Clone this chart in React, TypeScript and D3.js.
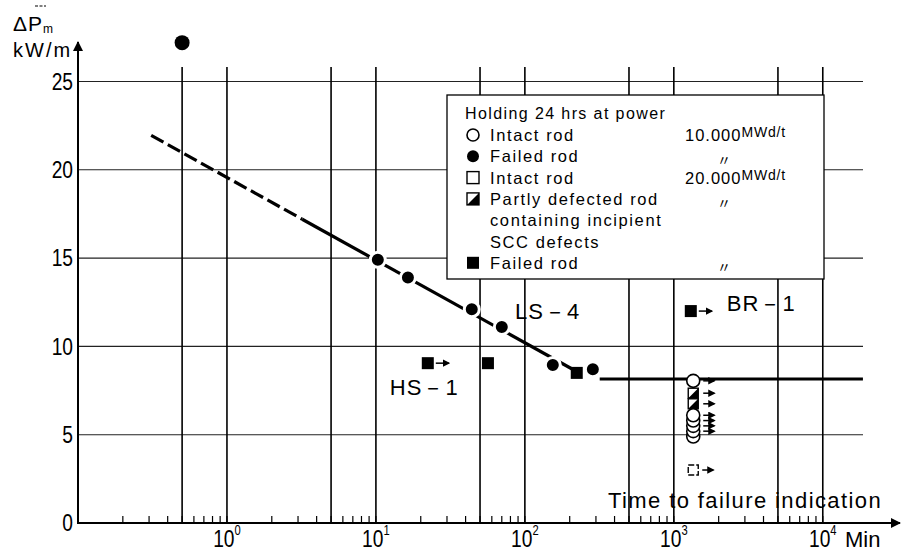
import React from "react";
import * as d3 from "d3";

// axis values
const decadeExponents = [0, 1, 2, 3, 4];
const xGridValues = [0.5, 1, 5, 10, 50, 100, 500, 1000, 5000, 10000];
const yTickValues = [0, 5, 10, 15, 20, 25];
const yGridValues = [5, 10, 15, 20, 25];

// 10.000 MWd/t - failed rods (filled circles)
const failed10k = [
  { t: 0.5, p: 27.2 },
  { t: 10.3, p: 14.9 },
  { t: 16.4, p: 13.9 },
  { t: 44, p: 12.1 },
  { t: 70, p: 11.1 },
  { t: 154, p: 8.95 },
  { t: 286, p: 8.7 },
];
// 20.000 MWd/t - failed rods (filled squares)
const failed20k = [
  { t: 22.3, p: 9.05, arrow: true },
  { t: 56.5, p: 9.05, arrow: false },
  { t: 223, p: 8.5, arrow: false },
  { t: 1300, p: 12.0, arrow: true },
];
// 10.000 MWd/t - intact rods (open circles)
const intact10k = [
  { t: 1350, p: 8.05, arrow: true },
  { t: 1350, p: 6.1, arrow: true },
  { t: 1350, p: 5.8, arrow: true },
  { t: 1350, p: 5.5, arrow: true },
  { t: 1350, p: 5.2, arrow: true },
  { t: 1350, p: 4.9, arrow: false },
];
// 20.000 MWd/t - partly defected rods
const partly20k = [
  { t: 1350, p: 7.35, arrow: true },
  { t: 1350, p: 6.75, arrow: true },
];
// 20.000 MWd/t - intact rods (open squares)
const intact20k = [{ t: 1350, p: 3.0, arrow: true }];

// fitted threshold lines
const trendDashed = [
  { t: 0.31, p: 21.95 },
  { t: 3.2, p: 17.2 },
];
const trendSolid = [
  { t: 3.2, p: 17.2 },
  { t: 215, p: 8.65 },
];
const plateau = [
  { t: 318, p: 8.15 },
  { t: 18600, p: 8.15 },
];

const curveLabels = [
  { text: "LS－4", t: 86, p: 11.95 },
  { text: "HS－1", t: 12.4, p: 7.7 },
  { text: "BR－1", t: 2270, p: 12.45 },
];

const legendRows = [
  { marker: "openCircle", label: "Intact rod", burnup: "10.000" },
  { marker: "filledCircle", label: "Failed rod", burnup: "〃" },
  { marker: "openSquare", label: "Intact rod", burnup: "20.000" },
  { marker: "halfSquare", label: "Partly defected rod", burnup: "〃" },
  { marker: "none", label: "containing incipient", burnup: "" },
  { marker: "none", label: "SCC defects", burnup: "" },
  { marker: "filledSquare", label: "Failed rod", burnup: "〃" },
];

const FONT = "'Liberation Sans', Arial, sans-serif";

function Marker({ kind, cx, cy, size }: { kind: string; cx: number; cy: number; size: number }) {
  const h = size / 2;
  if (kind === "openCircle")
    return <circle cx={cx} cy={cy} r={h} fill="white" stroke="black" strokeWidth={1.6} />;
  if (kind === "filledCircle") return <circle cx={cx} cy={cy} r={h} fill="black" />;
  if (kind === "openSquare")
    return <rect x={cx - h} y={cy - h} width={size} height={size} fill="white" stroke="black" strokeWidth={1.4} />;
  if (kind === "filledSquare") return <rect x={cx - h} y={cy - h} width={size} height={size} fill="black" />;
  if (kind === "halfSquare")
    return (
      <g>
        <rect x={cx - h} y={cy - h} width={size} height={size} fill="white" stroke="black" strokeWidth={1.4} />
        <path d={`M${cx + h},${cy - h}L${cx + h},${cy + h}L${cx - h},${cy + h}Z`} fill="black" />
      </g>
    );
  return null;
}

export default function App() {
  const width = 905;
  const height = 555;

  const x = d3.scaleLog().domain([0.1, Math.pow(10, 4.27)]).range([78, 863]);
  const y = d3.scaleLinear().domain([0, 25]).range([523, 81.5]);

  const line = d3
    .line<{ t: number; p: number }>()
    .x((d) => x(d.t))
    .y((d) => y(d.p));

  const minorTicks = x.ticks().filter((t) => t <= 10000);
  const gridTop = 67;
  const x0 = x.range()[0];
  const xEnd = x.range()[1];

  const arrow = (px: number, py: number, off: number, len: number, key: string) => (
    <line
      key={key}
      x1={px + off}
      y1={py}
      x2={px + off + len}
      y2={py}
      stroke="black"
      strokeWidth={1.5}
      markerEnd="url(#head)"
    />
  );

  // legend layout
  const lg = { x: 447, y: 95, w: 377, h: 184 };
  const rowY = (i: number) => 135 + i * 21.3;

  return (
    <svg
      width={width}
      height={height}
      style={{ position: "absolute", left: 0, top: 0, background: "white" }}
      fontFamily={FONT}
    >
      <defs>
        <marker id="head" viewBox="0 0 10 10" refX="8" refY="5" markerWidth="5" markerHeight="5" orient="auto">
          <path d="M0,0L10,5L0,10Z" fill="black" />
        </marker>
        <marker id="bigHead" viewBox="0 0 10 10" refX="9" refY="5" markerWidth="7" markerHeight="5" orient="auto">
          <path d="M0,0L10,5L0,10Z" fill="black" />
        </marker>
      </defs>
      <rect width={width} height={height} fill="white" />

      {/* horizontal grid */}
      {yGridValues.map((v) => (
        <line key={"hg" + v} x1={x0} x2={xEnd} y1={y(v)} y2={y(v)} stroke="#222" strokeWidth={1.1} />
      ))}
      {/* vertical grid */}
      {xGridValues.map((v) => (
        <line key={"vg" + v} x1={x(v)} x2={x(v)} y1={gridTop} y2={y(0)} stroke="black" strokeWidth={1.6} />
      ))}

      {/* legend */}
      <rect x={lg.x} y={lg.y} width={lg.w} height={lg.h} fill="white" stroke="black" strokeWidth={1.3} />
      <text x={465} y={113} fontSize={16} letterSpacing={1.4} dominantBaseline="central">
        Holding 24 hrs at power
      </text>
      {legendRows.map((r, i) => (
        <g key={"lr" + i}>
          <Marker kind={r.marker} cx={473} cy={rowY(i)} size={12} />
          <text x={490} y={rowY(i)} fontSize={16.5} letterSpacing={1.6} dominantBaseline="central">
            {r.label}
          </text>
          {r.burnup === "〃" ? (
            <text x={717} y={rowY(i) + 3} fontSize={14} fontFamily="'Noto Sans CJK JP', sans-serif" dominantBaseline="central">
              〃
            </text>
          ) : r.burnup ? (
            <text x={685} y={rowY(i)} fontSize={16.5} letterSpacing={1} dominantBaseline="central">
              {r.burnup}
              <tspan fontSize={14} dy={-3} letterSpacing={0.8}>MWd/t</tspan>
            </text>
          ) : null}
        </g>
      ))}

      {/* threshold lines */}
      <path d={line(trendDashed) || ""} fill="none" stroke="black" strokeWidth={3.2} strokeDasharray="14,5" />
      <path d={line(trendSolid) || ""} fill="none" stroke="black" strokeWidth={3.2} />
      <path d={line(plateau) || ""} fill="none" stroke="black" strokeWidth={3} />

      {/* data points */}
      {failed10k.map((d, i) => (
        <circle key={"f10" + i} cx={x(d.t)} cy={y(d.p)} r={7.5} fill="black" stroke="white" strokeWidth={i === 0 ? 0 : 3} />
      ))}
      {failed20k.map((d, i) => (
        <g key={"f20" + i}>
          <rect x={x(d.t) - 6} y={y(d.p) - 6} width={12} height={12} fill="black" />
          {d.arrow ? arrow(x(d.t), y(d.p), 8, 13, "a") : null}
        </g>
      ))}
      {partly20k.map((d, i) => (
        <g key={"p20" + i}>
          <Marker kind="halfSquare" cx={x(d.t)} cy={y(d.p)} size={10} />
          {d.arrow ? arrow(x(d.t), y(d.p), 10, 11, "a") : null}
        </g>
      ))}
      {intact20k.map((d, i) => (
        <g key={"i20" + i}>
          <rect x={x(d.t) - 5} y={y(d.p) - 5} width={10} height={10} fill="white" stroke="black" strokeWidth={1.4} strokeDasharray="6,2" />
          {d.arrow ? arrow(x(d.t), y(d.p), 9, 11, "a") : null}
        </g>
      ))}
      {intact10k
        .slice()
        .reverse()
        .map((d, i) => (
          <g key={"i10" + i}>
            <circle cx={x(d.t)} cy={y(d.p)} r={6.5} fill="white" stroke="black" strokeWidth={1.6} />
            {d.arrow ? arrow(x(d.t), y(d.p), 10, 11, "a") : null}
          </g>
        ))}

      {/* curve labels */}
      {curveLabels.map((l) => (
        <text key={l.text} x={x(l.t)} y={y(l.p)} fontSize={22} letterSpacing={1} dominantBaseline="central">
          {l.text}
        </text>
      ))}

      {/* axes */}
      <line x1={x0} x2={900} y1={y(0)} y2={y(0)} stroke="black" strokeWidth={2} markerEnd="url(#bigHead)" />
      <line x1={x0} x2={x0} y1={y(0) + 1} y2={42} stroke="black" strokeWidth={2} markerEnd="url(#bigHead)" />
      {minorTicks.map((t, i) => (
        <line key={"mt" + i} x1={x(t)} x2={x(t)} y1={y(0)} y2={y(0) - 7} stroke="black" strokeWidth={1.2} />
      ))}

      {/* y tick labels */}
      {yTickValues.map((v) => (
        <text
          key={"yl" + v}
          transform={`translate(73,${y(v)}) scale(0.8,1)`}
          fontSize={24}
          textAnchor="end"
          dominantBaseline="central"
        >
          {v}
        </text>
      ))}

      {/* x tick labels */}
      {decadeExponents.map((e) => (
        <text
          key={"xl" + e}
          transform={`translate(${x(Math.pow(10, e))},${539}) scale(0.8,1)`}
          fontSize={24}
          textAnchor="middle"
          dominantBaseline="central"
        >
          10
          <tspan fontSize={14} dy={-8}>
            {e}
          </tspan>
        </text>
      ))}
      <text x={845} y={539} fontSize={22} dominantBaseline="central">
        Min
      </text>

      {/* axis titles */}
      <text x={608} y={500} fontSize={22} letterSpacing={1.4} dominantBaseline="central">
        Time to failure indication
      </text>
      <text x={13} y={23} fontSize={21} letterSpacing={1} dominantBaseline="central">
        ΔP
        <tspan fontSize={12} dy={6}>
          m
        </tspan>
      </text>
      <line x1={35} x2={46} y1={6} y2={6} stroke="black" strokeWidth={1.2} strokeDasharray="3,1.5" />
      <text x={13} y={50} fontSize={20} letterSpacing={2} dominantBaseline="central">
        kW/m
      </text>
    </svg>
  );
}
